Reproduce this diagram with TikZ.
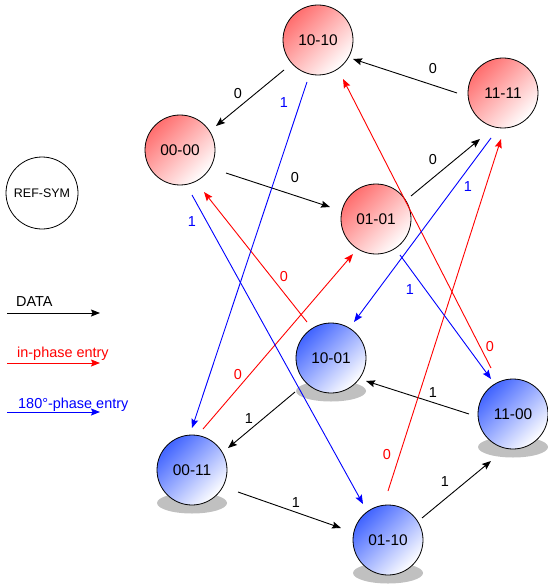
\documentclass[tikz,border=0pt]{standalone}
\usepackage{fontspec}
\setmainfont{Liberation Sans}
\usetikzlibrary{arrows.meta,calc,backgrounds}

\definecolor{redtop}{RGB}{255,110,110}
\definecolor{bluetop}{RGB}{65,100,255}
\definecolor{shadowgray}{RGB}{192,192,192}
\definecolor{myred}{RGB}{255,0,0}
\definecolor{myblue}{RGB}{0,0,255}

\begin{document}
\begin{tikzpicture}[x=1bp,y=-1bp,
  state/.style={circle,draw=black,line width=0.8bp,minimum size=70bp,inner sep=0pt,
    font=\fontsize{15.5}{17}\selectfont},
  redstate/.style={state,top color=redtop,bottom color=white,shading angle=45},
  bluestate/.style={state,top color=bluetop,bottom color=white,shading angle=45},
  refstate/.style={circle,draw=black,line width=0.8bp,minimum size=72bp,inner sep=0pt,
    font=\fontsize{12.5}{14}\selectfont},
  tip/.style={-{Stealth[length=9bp,width=7bp,inset=1.5bp]}},
  dataedge/.style={tip,draw=black,line width=0.9bp},
  inedge/.style={tip,draw=myred,line width=0.9bp},
  antiedge/.style={tip,draw=myblue,line width=0.9bp},
  lbl/.style={font=\fontsize{14.5}{16}\selectfont,inner sep=0pt},
  legendtext/.style={font=\fontsize{14.5}{16}\selectfont,inner sep=0pt,anchor=west}
]
\useasboundingbox (0,0) rectangle (548,586);

% states
\node[redstate]  (A) at (318,40)  {10-10};
\node[redstate]  (B) at (503,93)  {11-11};
\node[redstate]  (C) at (180,150) {00-00};
\node[redstate]  (D) at (376,219) {01-01};
\node[bluestate] (E) at (331,358) {10-01};
\node[bluestate] (F) at (513,414) {11-00};
\node[bluestate] (G) at (192,470) {00-11};
\node[bluestate] (H) at (388,540) {01-10};
\node[refstate]  (R) at (42,193)  {REF-SYM};

% shadows
\begin{pgfonlayer}{background}
  \foreach \n in {E,F,G,H}
    \fill[shadowgray] ($(\n)+(0,33)$) ellipse [x radius=35bp, y radius=10.5bp];
\end{pgfonlayer}

% data transitions
\draw[dataedge] ($(B)+(-46,0)$)   -- ($(A)+(35,19)$)   node[lbl] at (433,69) {0};
\draw[dataedge] ($(A)+(-34,30)$)  -- ($(C)+(36,-24)$)  node[lbl] at (238,94) {0};
\draw[dataedge] ($(C)+(46,23)$)   -- ($(D)+(-46,-12)$) node[lbl] at (295,178) {0};
\draw[dataedge] ($(D)+(35,-23)$)  -- ($(B)+(-23,46)$)  node[lbl] at (433,160) {0};
\draw[dataedge] ($(F)+(-44,0)$)   -- ($(E)+(35,23)$)   node[lbl] at (433,393) {1};
\draw[dataedge] ($(E)+(-36,34)$)  -- ($(G)+(36,-22)$)  node[lbl] at (249,419) {1};
\draw[dataedge] ($(G)+(46,22)$)   -- ($(H)+(-47,-12)$) node[lbl] at (296,503) {1};
\draw[dataedge] ($(H)+(34,-22)$)  -- ($(F)+(-22,47)$)  node[lbl] at (445,482) {1};

% in-phase entries
\draw[inedge] ($(G)+(11,-41)$)  -- ($(D)+(-23,35)$) node[lbl,text=myred] at (238,375) {0};
\draw[inedge] ($(H)+(0,-49)$)   -- ($(B)+(-2,46)$)  node[lbl,text=myred] at (387,455) {0};
\draw[inedge] ($(F)+(-22,-46)$) -- ($(A)+(25,39)$)  node[lbl,text=myred] at (490,347) {0};
\draw[inedge] ($(E)+(-24,-36)$) -- ($(C)+(24,42)$)  node[lbl,text=myred] at (284,277) {0};

% 180-phase entries
\draw[antiedge] ($(A)+(-11,42)$) -- ($(G)+(0,-42)$)   node[lbl,text=myblue] at (284,103) {1};
\draw[antiedge] ($(C)+(12,45)$)  -- ($(H)+(-25,-36)$) node[lbl,text=myblue] at (192,222) {1};
\draw[antiedge] ($(B)+(-12,45)$) -- ($(E)+(23,-36)$)  node[lbl,text=myblue] at (468,187) {1};
\draw[antiedge] ($(D)+(24,36)$)  -- ($(F)+(-22,-35)$) node[lbl,text=myblue] at (410,290) {1};

% legend
\coordinate (L1a) at (7,313);  \coordinate (L1b) at (100,313);
\coordinate (L2a) at (7,363);  \coordinate (L2b) at (100,363);
\coordinate (L3a) at (7,412);  \coordinate (L3b) at (100,412);
\node[legendtext] (T1) at (16,302) {DATA};
\node[legendtext,text=myred] (T2) at (17,354) {in-phase entry};
\node[legendtext,text=myblue] (T3) at (18,405) {180°-phase entry};
\draw[dataedge] (L1a) -- (L1b);
\draw[inedge] (L2a) -- (L2b);
\draw[antiedge] (L3a) -- (L3b);
\end{tikzpicture}
\end{document}
